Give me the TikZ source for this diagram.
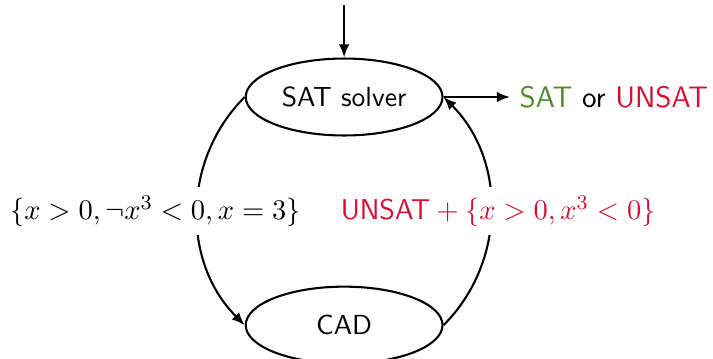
\documentclass[tikz,border=0pt]{standalone}
\usepackage{amsmath}
\usetikzlibrary{shapes.geometric, arrows.meta}
\definecolor{satgreen}{RGB}{76,140,43}
\definecolor{unsatred}{RGB}{210,16,52}

\begin{document}
\begin{tikzpicture}[thick, font=\sffamily\fontsize{11}{13}\selectfont,
  >={Latex[length=5pt, width=4pt]},
  solver/.style={draw, ellipse, minimum width=2.66cm, minimum height=1.04cm, inner sep=0pt,
    font=\sffamily\fontsize{10.6}{12}\selectfont}]
\useasboundingbox (0,0) rectangle (9.637,-4.852);
\node[solver] (sat) at (4.651,-1.311) {SAT solver};
\node[solver] (cad) at (4.651,-4.394) {CAD};
\coordinate (in) at (4.651,-0.068);
\coordinate (out) at (6.893,-1.311);

\draw[->] (in)--(sat);
\draw[->] (sat.east)--(out) node[right, font=\sffamily\fontsize{11.4}{13}\selectfont]
  {\textcolor{satgreen}{SAT} or \textcolor{unsatred}{UNSAT}};

\draw[->] (sat.west) to[bend right=45]
  node[fill=white, xshift=-0.57cm] {$\{x>0, \neg x^3<0, x=3\}$} (cad.west);
\draw[->] (cad.east) to[bend right=45]
  node[fill=white, xshift=0.1cm, text=unsatred] {$\textsf{UNSAT} + \{x>0, x^3<0\}$} (sat.east);

\end{tikzpicture}
\end{document}
